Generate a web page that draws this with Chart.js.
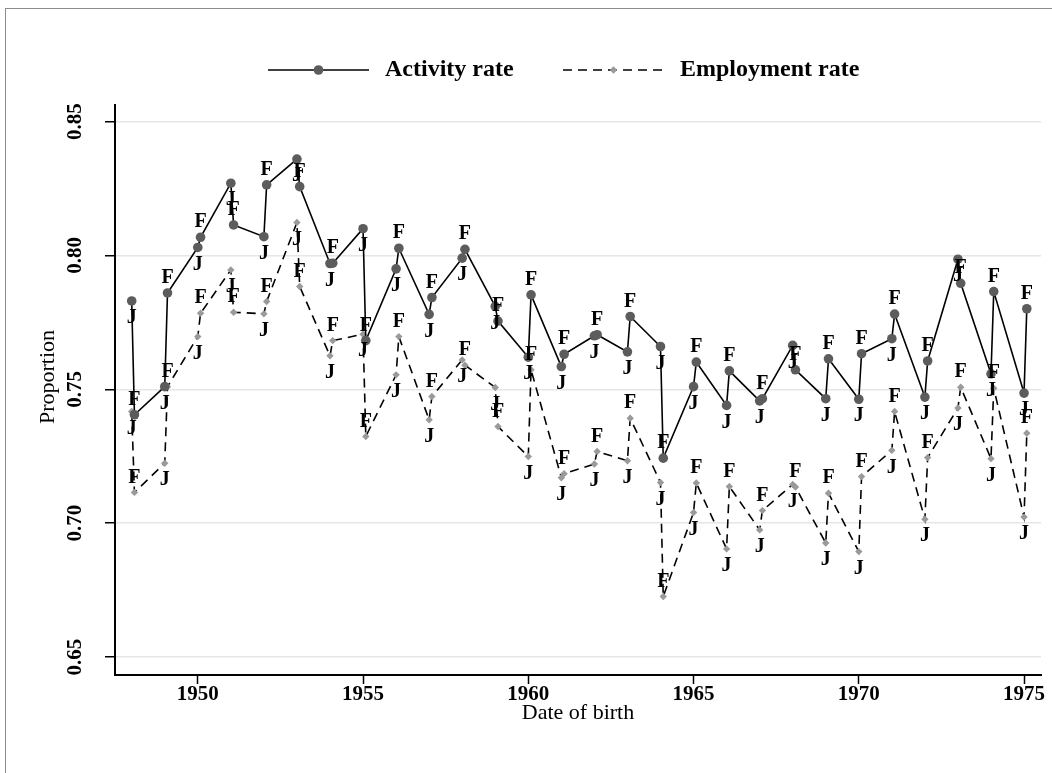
<!DOCTYPE html>
<html><head><meta charset="utf-8">
<script src="https://cdn.jsdelivr.net/npm/chart.js@4.4.0/dist/chart.umd.min.js"></script>
<style>
html,body{margin:0;padding:0;background:#fff;overflow:hidden;}
#wrap{position:relative;width:1052px;height:773px;overflow:hidden;background:#fff;}
#frame{position:absolute;left:5px;top:8px;width:1100px;height:820px;border:1px solid #8c8c8c;box-sizing:border-box;}
canvas{position:absolute;left:0;top:0;}
</style></head><body>
<div id="wrap"><div id="frame"></div><canvas id="c" width="1052" height="773"></canvas></div>
<script>
// ---- data ----
const years = [1948,1949,1950,1951,1952,1953,1954,1955,1956,1957,1958,1959,1960,1961,1962,1963,1964,1965,1966,1967,1968,1969,1970,1971,1972,1973,1974,1975];
const activityJan = [0.783,0.751,0.803,0.827,0.807,0.836,0.797,0.810,0.795,0.778,0.799,0.781,0.762,0.7585,0.770,0.764,0.766,0.751,0.744,0.7457,0.7664,0.7465,0.7463,0.7689,0.7471,0.7986,0.7558,0.7486];
const activityFeb = [0.7405,0.786,0.8068,0.8114,0.8264,0.8257,0.7971,0.7682,0.8027,0.7843,0.8023,0.7755,0.7853,0.7631,0.7704,0.7772,0.7243,0.7602,0.7569,0.7465,0.7573,0.7614,0.7633,0.7781,0.7606,0.7896,0.7865,0.7801];
const employmentJan = [0.7417,0.7224,0.7697,0.7946,0.7782,0.8123,0.7625,0.7706,0.7554,0.7386,0.761,0.7507,0.7249,0.717,0.7221,0.7233,0.7152,0.704,0.6904,0.6975,0.7145,0.6926,0.6894,0.7272,0.7015,0.743,0.7241,0.7023];
const employmentFeb = [0.7115,0.751,0.7784,0.7788,0.7828,0.7884,0.7682,0.7324,0.7697,0.7473,0.759,0.7361,0.7573,0.7185,0.7268,0.7392,0.6726,0.715,0.7137,0.7047,0.7135,0.7112,0.7174,0.7417,0.7245,0.7508,0.7504,0.7336];
const monthCodes = ["J","F"];
const monthIndex = [0,1];
const seriesNames = ["Activity rate","Employment rate"];
const xTickValues = [1950,1955,1960,1965,1970,1975];
const yTickValues = [0.65,0.70,0.75,0.80,0.85];
const yTickLabels = ["0.65","0.70","0.75","0.80","0.85"];
const xTitle = "Date of birth";
const yTitle = "Proportion";

function buildPoints(jan, feb){
  const pts = [];
  years.forEach((yr,i)=>{
    pts.push({x: yr + monthIndex[0]/12, y: jan[i], m: monthCodes[0]});
    pts.push({x: yr + monthIndex[1]/12, y: feb[i], m: monthCodes[1]});
  });
  return pts;
}

const SERIF = '"Liberation Serif", "DejaVu Serif", serif';

function drawMarker(ctx, style, r, x, y, color){
  ctx.fillStyle = color;
  ctx.beginPath();
  if (style === 'circle') { ctx.arc(x, y, r, 0, Math.PI*2); }
  else { ctx.moveTo(x-r,y); ctx.lineTo(x,y-r); ctx.lineTo(x+r,y); ctx.lineTo(x,y+r); ctx.closePath(); }
  ctx.fill();
}

const monthLabelPlugin = {
  id: 'monthLabels',
  afterDatasetsDraw(chart){
    const ctx = chart.ctx;
    ctx.save();
    ctx.font = 'bold 20px ' + SERIF;
    ctx.fillStyle = '#000';
    ctx.textAlign = 'center';
    ctx.textBaseline = 'middle';
    chart.data.datasets.forEach((ds, di)=>{
      const meta = chart.getDatasetMeta(di);
      meta.data.forEach((el, i)=>{
        const m = ds.data[i].m;
        const dy = (m === monthCodes[1]) ? -15 : 17;
        ctx.fillText(m, el.x, el.y + dy);
      });
    });
    ctx.restore();
  }
};

// y-axis title drawn beside the y scale (Stata places it slightly above the plot centre)
const yTitlePlugin = {
  id: 'yTitle',
  afterDraw(chart){
    const ctx = chart.ctx, area = chart.chartArea;
    ctx.save();
    ctx.translate(48, (area.top + area.bottom)/2 - 13);
    ctx.rotate(-Math.PI/2);
    ctx.font = '22px ' + SERIF;
    ctx.fillStyle = '#000';
    ctx.textAlign = 'center';
    ctx.textBaseline = 'middle';
    ctx.fillText(yTitle, 0, 0);
    ctx.restore();
  }
};

const legendItems = [{x0:268, x1:369, tx:385}, {x0:563, x1:664, tx:680}];
const legendPlugin = {
  id: 'stataLegend',
  afterDraw(chart){
    const ctx = chart.ctx;
    const y = 70;
    chart.data.datasets.forEach((ds, i)=>{
      const it = legendItems[i];
      ctx.save();
      ctx.strokeStyle = ds.borderColor;
      ctx.lineWidth = ds.borderWidth;
      ctx.setLineDash(ds.borderDash || []);
      ctx.beginPath(); ctx.moveTo(it.x0, y); ctx.lineTo(it.x1, y); ctx.stroke();
      ctx.setLineDash([]);
      drawMarker(ctx, ds.pointStyle, ds.pointRadius, (it.x0+it.x1)/2, y, ds.pointBackgroundColor);
      ctx.font = 'bold 24px ' + SERIF;
      ctx.fillStyle = '#000';
      ctx.textAlign = 'left';
      ctx.textBaseline = 'middle';
      ctx.fillText(ds.label, it.tx, y);
      ctx.restore();
    });
  }
};

new Chart(document.getElementById('c').getContext('2d'), {
  type: 'line',
  data: {
    datasets: [
      {label: seriesNames[0], data: buildPoints(activityJan, activityFeb), borderColor:'#000', borderWidth:1.6,
       pointStyle:'circle', pointRadius:4.8, pointBackgroundColor:'#5c5c5c', pointBorderWidth:0, tension:0, fill:false},
      {label: seriesNames[1], data: buildPoints(employmentJan, employmentFeb), borderColor:'#000', borderWidth:1.6, borderDash:[9,6],
       pointStyle:'rectRot', pointRadius:3.7, pointBackgroundColor:'#9a9a9a', pointBorderWidth:0, tension:0, fill:false}
    ]
  },
  options: {
    responsive:false, animation:false, devicePixelRatio:1,
    layout:{padding:{left:0, top:105, right:11, bottom:0}},
    plugins:{legend:{display:false}, tooltip:{enabled:false}, title:{display:false}},
    scales:{
      x:{type:'linear', min:1947.495, max:1975.513,
        afterBuildTicks: s => { s.ticks = xTickValues.map(v=>({value:v})); },
        afterFit: s => { s.height = 98; },
        ticks:{callback: v => String(v), font:{family:SERIF, size:21, weight:'bold', lineHeight:1}, color:'#000', padding:0, maxRotation:0, minRotation:0, autoSkip:false},
        grid:{drawOnChartArea:false, drawTicks:true, tickLength:9, tickColor:'#000', tickWidth:1.5},
        border:{color:'#000', width:2},
        title:{display:true, text:xTitle, font:{family:SERIF, size:22, lineHeight:1.2}, color:'#000', padding:{top:0, bottom:47}}
      },
      y:{type:'linear', min:0.6433, max:0.8562,
        afterBuildTicks: s => { s.ticks = yTickValues.map(v=>({value:v})); },
        afterFit: s => { s.width = 115; },
        ticks:{callback: (v) => yTickLabels[yTickValues.findIndex(t=>Math.abs(t-v)<1e-9)], font:{family:SERIF, size:21, weight:'bold', lineHeight:1}, color:'#000',
               padding:11, minRotation:90, maxRotation:90, crossAlign:'center', autoSkip:false},
        grid:{drawOnChartArea:true, color:'#e6e6e6', lineWidth:1.5, drawTicks:true, tickLength:10, tickColor:'#000', tickWidth:1.5},
        border:{color:'#000', width:2},
        title:{display:false, text:yTitle}
      }
    }
  },
  plugins:[monthLabelPlugin, legendPlugin, yTitlePlugin]
});
</script>
</body></html>
